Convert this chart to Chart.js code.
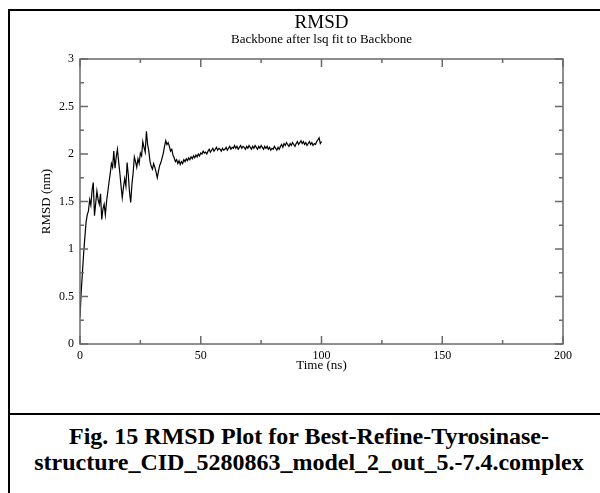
<!DOCTYPE html>
<html>
<head>
<meta charset="utf-8">
<title>RMSD</title>
<script src="https://cdn.jsdelivr.net/npm/chart.js@4.4.1/dist/chart.umd.min.js"></script>
<style>
    html, body { margin: 0; padding: 0; background: #fff; }
    body { width: 600px; height: 493px; position: relative; overflow: hidden; font-family: 'Liberation Serif', 'Times New Roman', serif; }
    #frame { position: absolute; left: 8px; top: 9px; width: 620px; height: 520px; border-left: 2px solid #000; border-top: 2px solid #000; }
    #rule { position: absolute; left: 8px; top: 413px; width: 620px; height: 0; border-top: 2px solid #000; }
    #caption { position: absolute; left: 10px; width: 598px; top: 423px; text-align: center; font-weight: bold; font-size: 24px; line-height: 26px; color: #000; white-space: nowrap; }
    #chartBox { position: absolute; left: 0; top: 0; width: 600px; height: 493px; }
</style>
</head>
<body>
<div id="frame"></div>
<div id="rule"></div>
<div id="caption">Fig. 15 RMSD Plot for Best-Refine-Tyrosinase-<br>structure_CID_5280863_model_2_out_5.-7.4.complex</div>
<div id="chartBox"><canvas id="rmsdChart" width="600" height="493"></canvas></div>

<script>
// Backbone RMSD (nm), one sample every 0.5 ns from 0 to 100 ns
const TIME_STEP_NS = 0.5;
const rmsdNm = [
    0.28, 0.55, 0.75, 0.95, 1.12, 1.28, 1.36, 1.40, 1.52, 1.46,
    1.62, 1.70, 1.35, 1.48, 1.61, 1.52, 1.47, 1.58, 1.31, 1.42,
    1.47, 1.36, 1.50, 1.60, 1.70, 1.79, 1.90, 1.86, 2.03, 1.85,
    1.97, 2.05, 1.92, 1.80, 1.66, 1.54, 1.65, 1.74, 1.66, 1.91,
    1.78, 1.60, 1.49, 1.68, 1.80, 1.97, 1.92, 1.86, 1.95, 1.90,
    2.01, 1.98, 2.13, 2.07, 2.02, 2.24, 2.10, 2.03, 1.92, 1.87,
    1.84, 1.90, 1.86, 1.81, 1.75, 1.82, 1.88, 1.91, 1.96, 2.01,
    2.08, 2.14, 2.10, 2.12, 2.08, 2.03, 2.05, 1.99, 1.96, 1.92,
    1.94, 1.90, 1.93, 1.89, 1.92, 1.90, 1.94, 1.92, 1.95, 1.93,
    1.96, 1.94, 1.97, 1.95, 1.98, 1.96, 1.99, 1.97, 2.00, 1.98,
    2.01, 2.00, 2.03, 2.01, 2.02, 2.00, 2.03, 2.05, 2.02, 2.04,
    2.06, 2.03, 2.05, 2.07, 2.04, 2.06, 2.05, 2.03, 2.06, 2.04,
    2.05, 2.07, 2.04, 2.06, 2.08, 2.05, 2.07, 2.06, 2.09, 2.06,
    2.08, 2.05, 2.07, 2.09, 2.06, 2.08, 2.07, 2.05, 2.08, 2.06,
    2.09, 2.07, 2.05, 2.08, 2.06, 2.09, 2.07, 2.05, 2.08, 2.06,
    2.09, 2.07, 2.05, 2.08, 2.06, 2.08, 2.05, 2.07, 2.04, 2.06,
    2.05, 2.08, 2.06, 2.04, 2.07, 2.05, 2.08, 2.10, 2.07, 2.11,
    2.09, 2.12, 2.10, 2.08, 2.11, 2.09, 2.12, 2.10, 2.08, 2.11,
    2.13, 2.10, 2.12, 2.14, 2.11, 2.13, 2.10, 2.12, 2.09, 2.11,
    2.13, 2.10, 2.12, 2.09, 2.11, 2.10, 2.13, 2.15, 2.17, 2.11,
    2.13
];
const timeNs = rmsdNm.map((_, i) => i * TIME_STEP_NS);

// Axis ticks (Grace style: labelled majors, short unlabelled minors)
const xMajorTicks = [0, 50, 100, 150, 200];
const xMinorTicks = [25, 75, 125, 175];
const yMajorTicks = [0, 0.5, 1, 1.5, 2, 2.5, 3];
const yMinorTicks = [0.25, 0.75, 1.25, 1.75, 2.25, 2.75];

const TITLE = 'RMSD';
const SUBTITLE = 'Backbone after lsq fit to Backbone';
const X_TITLE = 'Time (ns)';
const Y_TITLE = 'RMSD (nm)';

// Plot box inside the 600x493 canvas
const PLOT = { left: 80, top: 59, right: 563, bottom: 344 };
const FONT = '"Liberation Serif", "Times New Roman", serif';
const FRAME_COLOR = '#6a6a6a';

// Frame, inward ticks, titles - drawn on top of the chart area
const graceDecor = {
    id: 'graceDecor',
    afterDraw(chart) {
        const { ctx, chartArea: a, scales: { x, y } } = chart;
        ctx.save();

        ctx.strokeStyle = FRAME_COLOR;
        ctx.lineWidth = 1.5;
        ctx.strokeRect(a.left, a.top, a.right - a.left, a.bottom - a.top);

        ctx.beginPath();
        const seg = (x1, y1, x2, y2) => { ctx.moveTo(x1, y1); ctx.lineTo(x2, y2); };
        xMajorTicks.forEach(v => {
            const px = x.getPixelForValue(v);
            seg(px, a.bottom, px, a.bottom - 8);
            seg(px, a.top, px, a.top + 8);
        });
        xMinorTicks.forEach(v => {
            const px = x.getPixelForValue(v);
            seg(px, a.bottom, px, a.bottom - 4);
            seg(px, a.top, px, a.top + 4);
        });
        yMajorTicks.forEach(v => {
            const py = y.getPixelForValue(v);
            seg(a.left, py, a.left + 8, py);
            seg(a.right, py, a.right - 8, py);
        });
        yMinorTicks.forEach(v => {
            const py = y.getPixelForValue(v);
            seg(a.left, py, a.left + 4, py);
            seg(a.right, py, a.right - 4, py);
        });
        ctx.stroke();

        const cx = (a.left + a.right) / 2;
        const cy = (a.top + a.bottom) / 2;
        ctx.fillStyle = '#000';
        ctx.textAlign = 'center';
        ctx.textBaseline = 'middle';
        ctx.font = '19px ' + FONT;
        ctx.fillText(TITLE, cx, 23);
        ctx.font = '13px ' + FONT;
        ctx.fillText(SUBTITLE, cx, 40);
        ctx.fillText(X_TITLE, cx, 366);

        ctx.translate(47, cy);
        ctx.rotate(-Math.PI / 2);
        ctx.fillText(Y_TITLE, 0, 0);
        ctx.restore();
    }
};

function createRmsdChart(canvasId) {
    const ctx = document.getElementById(canvasId);
    if (!ctx) {
        console.error(`Canvas element ${canvasId} not found`);
        return null;
    }

    return new Chart(ctx, {
        type: 'line',
        data: {
            datasets: [{
                label: 'RMSD',
                data: timeNs.map((t, i) => ({ x: t, y: rmsdNm[i] })),
                borderColor: '#000',
                borderWidth: 1.2,
                pointRadius: 0,
                tension: 0,
                fill: false
            }]
        },
        options: {
            responsive: false,
            animation: false,
            layout: {
                padding: { top: PLOT.top, right: 600 - PLOT.right, bottom: 0, left: 0 }
            },
            plugins: {
                legend: { display: false },
                title: { display: false },
                tooltip: { enabled: false }
            },
            scales: {
                x: {
                    type: 'linear',
                    min: 0,
                    max: 200,
                    afterBuildTicks: s => { s.ticks = xMajorTicks.map(v => ({ value: v })); },
                    afterFit: s => { s.height = 493 - PLOT.bottom; },
                    grid: { display: false, drawTicks: false },
                    border: { display: false },
                    ticks: {
                        color: '#000',
                        font: { family: FONT, size: 12 },
                        padding: 5,
                        maxRotation: 0,
                        autoSkip: false,
                        callback: v => String(v)
                    }
                },
                y: {
                    min: 0,
                    max: 3,
                    afterBuildTicks: s => { s.ticks = yMajorTicks.map(v => ({ value: v })); },
                    afterFit: s => { s.width = PLOT.left; },
                    grid: { display: false, drawTicks: false },
                    border: { display: false },
                    ticks: {
                        color: '#000',
                        font: { family: FONT, size: 12 },
                        padding: 6,
                        autoSkip: false,
                        callback: v => String(v)
                    }
                }
            }
        },
        plugins: [graceDecor]
    });
}

createRmsdChart('rmsdChart');
</script>
</body>
</html>
